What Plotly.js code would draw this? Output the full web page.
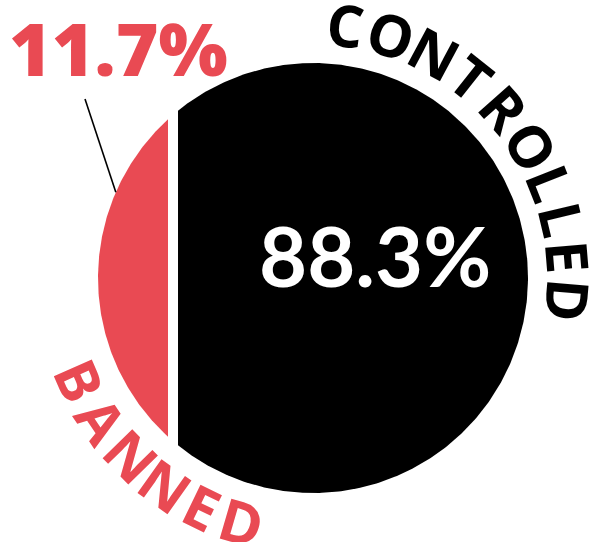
<!DOCTYPE html>
<html>
<head>
<meta charset="utf-8">
<script src="https://cdn.plot.ly/plotly-3.0.1.min.js"></script>
<style>
  html, body { margin: 0; padding: 0; background: #ffffff; }
  #chart { width: 606px; height: 542px; }
</style>
</head>
<body>
<div id="chart"></div>
<script>
// ---- data ----
const categories = ['Banned', 'Controlled'];
const shares = [11.7, 88.3];
const arcLabels = ['BANNED', 'CONTROLLED'];
const valueLabels = ['11.7%', '88.3%'];
const colors = ['#e94a53', '#000000'];

// ---- geometry helpers (unit circle in data space) ----
const W = 606, H = 542;
const cxPx = 313, cyPx = 278, rPx = 215;   // circle placement on the page
const gap = 10 / rPx;                       // white gap between the two parts

// solve the circular segment whose area is the banned share
function segmentHalfAngle(frac) {
  const target = 2 * Math.PI * frac;       // theta - sin(theta)
  let lo = 0, hi = 2 * Math.PI;
  for (let i = 0; i < 80; i++) {
    const m = (lo + hi) / 2;
    if (m - Math.sin(m) < target) lo = m; else hi = m;
  }
  return (lo + hi) / 2 / 2;
}
const total = shares[0] + shares[1];
const half = segmentHalfAngle(shares[0] / total);
const d = Math.cos(half);                    // chord distance from centre (left side)

function arc(a0, a1, n) {
  const xs = [], ys = [];
  for (let i = 0; i <= n; i++) {
    const a = a0 + (a1 - a0) * i / n;
    xs.push(Math.cos(a)); ys.push(Math.sin(a));
  }
  return [xs, ys];
}
const aRed = Math.acos(d + gap / 2);
const aBlk = Math.acos(d - gap / 2);
const [rx, ry] = arc(Math.PI - aRed, Math.PI + aRed, 200);
const [bx, by] = arc(-(Math.PI - aBlk), Math.PI - aBlk, 400);
rx.push(rx[0]); ry.push(ry[0]);
bx.push(bx[0]); by.push(by[0]);

const traces = [
  { x: rx, y: ry, type: 'scatter', mode: 'lines', fill: 'toself',
    fillcolor: colors[0], line: { width: 0, color: colors[0] },
    name: categories[0], hoverinfo: 'skip' },
  { x: bx, y: by, type: 'scatter', mode: 'lines', fill: 'toself',
    fillcolor: colors[1], line: { width: 0, color: colors[1] },
    name: categories[1], hoverinfo: 'skip' }
];

// ---- curved arc labels ----
const deg = Math.PI / 180;
const letterFont = { family: '"Open Sans", Lato, sans-serif', size: 58, weight: 700 };
const narrow = { L: 0.8, E: 0.85, T: 0.95, I: 0.5 };
function arcText(text, startDeg, endDeg, radiusPx, color, outward) {
  const chars = text.split('');
  const w = chars.map(c => narrow[c] || 1);
  const sum = w.reduce((a, b) => a + b, 0) - (w[0] + w[w.length - 1]) / 2;
  let acc = 0;
  const out = [];
  chars.forEach((c, i) => {
    if (i > 0) acc += (w[i - 1] + w[i]) / 2;
    const ang = startDeg + (endDeg - startDeg) * acc / sum;
    const rr = radiusPx / rPx;
    out.push({
      x: rr * Math.cos(ang * deg), y: rr * Math.sin(ang * deg),
      xref: 'x', yref: 'y', text: c, showarrow: false,
      xanchor: 'center', yanchor: 'middle',
      textangle: outward ? 90 - ang : 270 - ang,
      font: Object.assign({}, letterFont, { color: color })
    });
  });
  return out;
}

const px2x = p => (p - cxPx) / rPx;
const px2y = p => (cyPx - p) / rPx;

const annotations = []
  .concat(arcText(arcLabels[1], 82.6, -4.9, 256, colors[1], true))
  .concat(arcText(arcLabels[0], 203.7, 253.7, 254, colors[0], false))
  .concat([
    { x: px2x(118), y: px2y(47), xref: 'x', yref: 'y', text: valueLabels[0],
      showarrow: false, xanchor: 'center', yanchor: 'middle',
      font: { family: '"Open Sans", Lato, sans-serif', size: 73, weight: 800, color: colors[0] } },
    { x: px2x(375), y: px2y(255), xref: 'x', yref: 'y', text: valueLabels[1],
      showarrow: false, xanchor: 'center', yanchor: 'middle',
      font: { family: 'Lato, sans-serif', size: 83, weight: 700, color: '#ffffff' } }
  ]);

const leadAng = 156.5 * deg;
const shapes = [{
  type: 'line', xref: 'x', yref: 'y',
  x0: Math.cos(leadAng), y0: Math.sin(leadAng),
  x1: px2x(85), y1: px2y(99),
  line: { color: '#000000', width: 1.6 }
}];

const layout = {
  width: W, height: H,
  margin: { l: 0, r: 0, t: 0, b: 0, pad: 0 },
  paper_bgcolor: '#ffffff', plot_bgcolor: '#ffffff',
  showlegend: false,
  xaxis: { range: [px2x(0), px2x(W)], visible: false, fixedrange: true },
  yaxis: { range: [px2y(H), px2y(0)], visible: false, fixedrange: true },
  annotations: annotations,
  shapes: shapes
};

Plotly.newPlot('chart', traces, layout, { displayModeBar: false, staticPlot: true });
</script>
</body>
</html>
